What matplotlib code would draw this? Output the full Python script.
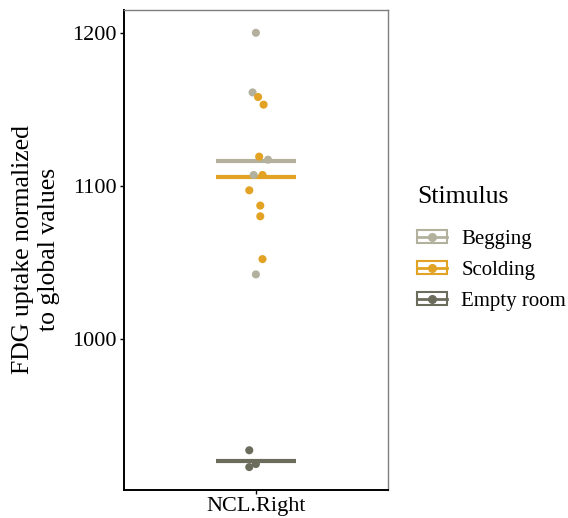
import numpy as np
import matplotlib
matplotlib.use("Agg")
import matplotlib.pyplot as plt
from matplotlib.patches import Patch
from matplotlib.lines import Line2D

# values
category = "NCL.Right"
groups = ["Begging", "Scolding", "Empty room"]
begging = [1200, 1161, 1117, 1107, 1042]
scolding = [1158, 1153, 1119, 1107, 1097, 1087, 1080, 1052]
empty_room = [927, 918, 916]
group_means = [1116, 1106, 920]

# horizontal jitter of the points (category units)
begging_jit = [0.0, -0.015, 0.055, -0.01, 0.0]
scolding_jit = [0.01, 0.035, 0.015, 0.03, -0.03, 0.02, 0.02, 0.03]
empty_jit = [-0.03, -0.0, -0.03]

colors = ["#b3b19d", "#e2a223", "#6c6c5c"]

plt.rcParams["font.family"] = ["Liberation Serif", "DejaVu Serif"]

fig = plt.figure(figsize=(5.68, 5.18), dpi=100)
ax = fig.add_axes([0.218, 0.054, 0.465, 0.927])

series = [(begging, begging_jit), (scolding, scolding_jit), (empty_room, empty_jit)]
for (vals, jit), mean, c in zip(series, group_means, colors):
    ax.plot([-0.18, 0.18], [mean, mean], color=c, lw=3, solid_capstyle="butt", zorder=2)
    ax.scatter(np.array(jit), vals, s=34, color=c, edgecolors="none", zorder=3)

ax.set_xlim(-0.6, 0.6)
ax.set_ylim(901, 1215)
ax.set_xticks([0])
ax.set_xticklabels([category])
ax.set_yticks([1000, 1100, 1200])
ax.tick_params(labelsize=16, length=3, width=1, color="black", pad=2)
ax.set_ylabel("FDG uptake normalized\nto global values", fontsize=18.5, labelpad=9,
              linespacing=1.2)

for side in ["left", "bottom"]:
    ax.spines[side].set_color("black")
    ax.spines[side].set_linewidth(1.4)
for side in ["top", "right"]:
    ax.spines[side].set_color("#7f7f7f")
    ax.spines[side].set_linewidth(1.0)

handles = []
for c in colors:
    box = Patch(facecolor="white", edgecolor=c, linewidth=1.5)
    mark = Line2D([], [], color=c, lw=2, marker="o", markersize=5.5)
    handles.append((box, mark))

leg = fig.legend(handles, groups, title="Stimulus", loc="upper left",
                 bbox_to_anchor=(0.735, 0.64), frameon=False, fontsize=15,
                 title_fontsize=18.5, handlelength=1.4, handleheight=0.6,
                 labelspacing=0.57, handletextpad=0.7, borderaxespad=0,
                 borderpad=0)
leg._legend_box.align = "left"
# extra room between the title and the keys
leg._legend_box.sep = leg._legend_box.sep + 7

fig.savefig("out.png", dpi=100)
